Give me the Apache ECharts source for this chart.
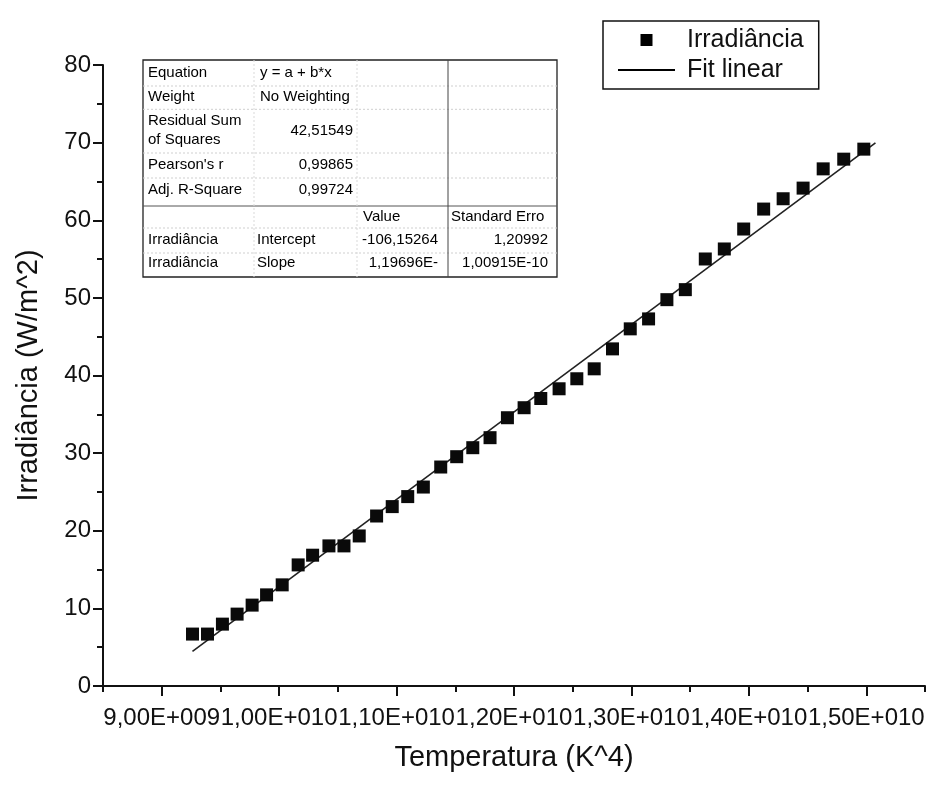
<!DOCTYPE html>
<html>
<head>
<meta charset="utf-8">
<script src="https://cdn.jsdelivr.net/npm/echarts@6/dist/echarts.min.js"></script>
<style>
  html, body { margin: 0; padding: 0; background: #fff; }
  #chart { width: 930px; height: 787px; }
</style>
</head>
<body>
<div id="chart"></div>
<script>
// temperatura^4 (K^4) and irradiance (W/m^2)
const tempK4 = [9.262e9, 9.390e9, 9.517e9, 9.642e9, 9.770e9, 9.893e9, 10.026e9, 10.162e9,
  10.285e9, 10.424e9, 10.552e9, 10.682e9, 10.830e9, 10.963e9, 11.095e9, 11.228e9,
  11.376e9, 11.512e9, 11.649e9, 11.796e9, 11.944e9, 12.086e9, 12.228e9, 12.384e9,
  12.535e9, 12.683e9, 12.839e9, 12.990e9, 13.146e9, 13.302e9, 13.459e9, 13.629e9,
  13.791e9, 13.956e9, 14.126e9, 14.292e9, 14.462e9, 14.633e9, 14.808e9, 14.979e9];
const irradiancia = [6.69, 6.69, 7.97, 9.26, 10.42, 11.74, 13.03, 15.60,
  16.85, 18.05, 18.05, 19.33, 21.90, 23.11, 24.40, 25.63,
  28.21, 29.54, 30.70, 31.99, 34.56, 35.85, 37.04, 38.29,
  39.58, 40.86, 43.43, 46.01, 47.29, 49.77, 51.06, 55.01,
  56.30, 58.87, 61.44, 62.77, 64.14, 66.62, 67.87, 69.16];

// fit linear ends
const fitX = [9.262e9, 1.5078e10];
const fitY = [4.46, 69.97];

// x ticks
const xMajor = [9e9, 1e10, 1.1e10, 1.2e10, 1.3e10, 1.4e10, 1.5e10];
const xMinor = [8.5e9, 9.5e9, 1.05e10, 1.15e10, 1.25e10, 1.35e10, 1.45e10, 1.55e10];

// resultado do ajuste (tabela)
const tableRows = [
  ['Equation', 'y = a + b*x', '', ''],
  ['Weight', 'No Weighting', '', ''],
  ['Residual Sum\nof Squares', '42,51549', '', ''],
  ["Pearson's r", '0,99865', '', ''],
  ['Adj. R-Square', '0,99724', '', ''],
  ['', '', 'Value', 'Standard Erro'],
  ['Irradiância', 'Intercept', '-106,15264', '1,20992'],
  ['Irradiância', 'Slope', '1,19696E-', '1,00915E-10']
];

function sciLabel(v) {
  const e = Math.floor(Math.log10(v) + 1e-9);
  const m = v / Math.pow(10, e);
  return m.toFixed(2).replace('.', ',') + 'E+' + String(e).padStart(3, '0');
}

const FONT = '"Liberation Sans", Arial, sans-serif';
const ink = '#111';

// table graphic
const tb = { left: 143, top: 60, right: 557, bottom: 277 };
const rowY = [72.7, 97.3, 130.5, 165, 190, 216.7, 240, 263.3];
const hLines = [86, 109.3, 153, 178, 228, 253];
const graphics = [];
graphics.push({
  type: 'rect', shape: { x: tb.left, y: tb.top, width: tb.right - tb.left, height: tb.bottom - tb.top },
  style: { fill: '#fff', stroke: '#222', lineWidth: 1.3 }, z: 10
});
hLines.forEach(function (y) {
  graphics.push({ type: 'line', shape: { x1: tb.left, y1: y, x2: tb.right, y2: y },
    style: { stroke: '#cfcfcf', lineWidth: 1, lineDash: [2, 2] }, z: 11 });
});
graphics.push({ type: 'line', shape: { x1: tb.left, y1: 206, x2: tb.right, y2: 206 },
  style: { stroke: '#555', lineWidth: 1 }, z: 11 });
[[254, '#dadada'], [357, '#dadada'], [448, '#444']].forEach(function (c) {
  graphics.push({ type: 'line', shape: { x1: c[0], y1: tb.top, x2: c[0], y2: tb.bottom },
    style: { stroke: c[1], lineWidth: 1, lineDash: c[1] === '#444' ? null : [2, 2] }, z: 11 });
});
tableRows.forEach(function (row, i) {
  row.forEach(function (txt, j) {
    if (!txt) return;
    let x, align;
    if (j === 0) { x = 148; align = 'left'; }
    else if (j === 1) {
      if (/^[-0-9]/.test(txt)) { x = 353; align = 'right'; } else { x = i >= 6 ? 257 : 260; align = 'left'; }
    } else if (j === 2) {
      if (i === 5) { x = 363; align = 'left'; } else { x = 438; align = 'right'; }
    } else {
      if (i === 5) { x = 451; align = 'left'; } else { x = 548; align = 'right'; }
    }
    graphics.push({
      type: 'text', x: x, y: rowY[i], z: 12,
      style: { text: txt, fill: '#000', font: '15px ' + FONT, align: align, verticalAlign: 'middle', lineHeight: 19 }
    });
  });
});

const chart = echarts.init(document.getElementById('chart'));
chart.setOption({
  backgroundColor: '#fff',
  animation: false,
  textStyle: { fontFamily: FONT },
  grid: { left: 103, right: 5, top: 65, bottom: 101, containLabel: false, outerBoundsMode: 'none' },
  legend: {
    left: 603, top: 21, orient: 'vertical',
    padding: [5, 15, 5, 15], itemGap: 2,
    itemWidth: 57, itemHeight: 12,
    borderColor: '#111', borderWidth: 1.5, backgroundColor: '#fff',
    textStyle: { fontSize: 25, color: ink, fontFamily: FONT, lineHeight: 28, padding: [0, 0, 0, 7] },
    data: [
      { name: 'Irradiância', icon: 'path://M0,0h12v12h-12z', itemStyle: { color: '#000', opacity: 1 } },
      { name: 'Fit linear', icon: 'path://M0,0H60V2H0Z', itemStyle: { color: '#000', opacity: 1 } }
    ]
  },
  xAxis: [{
    type: 'value', min: 8.5e9, max: 1.55e10, interval: 5e8,
    name: 'Temperatura (K^4)', nameLocation: 'middle', nameGap: 57,
    nameTextStyle: { fontSize: 29, color: ink, fontFamily: FONT },
    axisLine: { show: true, onZero: false, lineStyle: { color: ink, width: 2 } },
    axisTick: { show: true, customValues: xMinor, length: 6, lineStyle: { color: ink, width: 2 } },
    axisLabel: { customValues: xMajor, formatter: sciLabel, fontSize: 24, color: ink, margin: 20, fontFamily: FONT },
    splitLine: { show: false }
  }, {
    type: 'value', min: 8.5e9, max: 1.55e10, interval: 5e8, position: 'bottom', gridIndex: 0,
    axisLine: { show: false },
    axisTick: { show: true, customValues: xMajor, length: 10, lineStyle: { color: ink, width: 2 } },
    axisLabel: { show: false },
    splitLine: { show: false }
  }],
  yAxis: {
    type: 'value', min: 0, max: 80, interval: 10,
    name: 'Irradiância (W/m^2)', nameLocation: 'middle', nameGap: 60, nameRotate: 90,
    nameTextStyle: { fontSize: 29, color: ink, fontFamily: FONT },
    axisLine: { show: true, onZero: false, lineStyle: { color: ink, width: 2 } },
    axisTick: { show: true, length: 10, lineStyle: { color: ink, width: 2 } },
    minorTick: { show: true, splitNumber: 2, length: 6, lineStyle: { color: ink, width: 2 } },
    axisLabel: { fontSize: 24, color: ink, margin: 12, fontFamily: FONT },
    splitLine: { show: false }
  },
  series: [{
    name: 'Irradiância', type: 'scatter', xAxisIndex: 0,
    symbol: 'rect', symbolSize: 13,
    itemStyle: { color: '#0a0a0a', opacity: 1 },
    data: tempK4.map(function (x, i) { return [x, irradiancia[i]]; }),
    z: 3
  }, {
    name: 'Fit linear', type: 'line', xAxisIndex: 0,
    symbol: 'none', showSymbol: false,
    lineStyle: { color: '#222', width: 1.6 },
    itemStyle: { color: '#222' },
    data: fitX.map(function (x, i) { return [x, fitY[i]]; }),
    z: 2
  }],
  graphic: graphics
});
</script>
</body>
</html>
